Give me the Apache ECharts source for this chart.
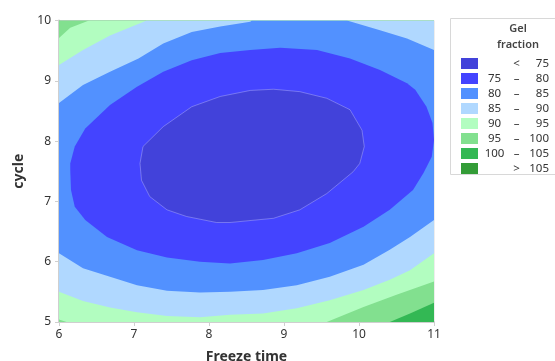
<!DOCTYPE html>
<html>
<head>
<meta charset="utf-8">
<script src="https://cdn.jsdelivr.net/npm/echarts@6/dist/echarts.min.js"></script>
<style>
  html, body { margin: 0; padding: 0; background: #fff; }
  #chart { width: 555px; height: 361px; }
</style>
</head>
<body>
<div id="chart"></div>
<script>
// contour bands: [freeze time, cycle] points
var bandNames = ['<75', '75-80', '80-85', '85-90', '90-95', '95-100', '100-105', '>105'];
var bandColors = ['#4242DA', '#4444FF', '#5291FF', '#B0D8FF', '#B2FDC0', '#82E08F', '#33B854', '#339C37'];
var legendCols = {
  '<75': ['', '<', '75'],
  '75-80': ['75', '–', '80'],
  '80-85': ['80', '–', '85'],
  '85-90': ['85', '–', '90'],
  '90-95': ['90', '–', '95'],
  '95-100': ['95', '–', '100'],
  '100-105': ['100', '–', '105'],
  '>105': ['', '>', '105']
};

// area where gel fraction < 105 (whole plot)
var below105 = [[6, 10], [11, 10], [11, 5], [6, 5]];
// area < 100 : plot minus bottom right corner
var below100 = [[6, 10], [11, 10], [11, 5.32], [10.68, 5.14], [10.41, 5], [6, 5]];
// area < 95
var below95 = [[6.40, 10], [11, 10], [11, 5.67], [10.50, 5.45], [10.06, 5.25], [9.57, 5],
  [6.10, 5], [6, 5.04], [6, 9.71], [6.15, 9.88]];
// area < 90
var below90 = [[7.17, 10], [11, 10], [11, 6.14], [10.68, 5.86], [10.41, 5.70], [10.06, 5.53],
  [9.61, 5.36], [9.17, 5.23], [8.72, 5.14], [8.28, 5.12], [7.88, 5.08], [7.44, 5.10],
  [7.04, 5.16], [6.68, 5.24], [6.32, 5.35], [6, 5.50], [6, 9.26], [6.32, 9.51], [6.68, 9.75]];
// area < 85
var below85 = [[6, 8.63], [6.32, 8.93], [6.68, 9.15], [7.06, 9.37], [7.39, 9.62], [7.77, 9.81],
  [8.15, 9.90], [8.55, 9.98], [8.57, 10], [9.84, 10], [10.28, 9.84], [10.64, 9.70], [11, 9.51],
  [11, 6.69], [10.68, 6.41], [10.41, 6.20], [10.06, 5.95], [9.61, 5.75], [9.17, 5.61],
  [8.72, 5.53], [8.28, 5.50], [7.88, 5.49], [7.44, 5.52], [7.04, 5.61], [6.68, 5.75],
  [6.32, 5.89], [6, 6.14]];
// area < 80
var below80 = [[6.15, 7.63], [6.21, 7.91], [6.35, 8.21], [6.68, 8.60], [7.04, 8.90], [7.39, 9.15],
  [7.77, 9.34], [8.15, 9.46], [8.55, 9.51], [8.95, 9.55], [9.44, 9.51], [9.88, 9.37],
  [10.28, 9.18], [10.64, 8.96], [10.75, 8.85], [10.90, 8.57], [10.98, 8.30], [11, 8.02],
  [10.97, 7.74], [10.86, 7.47], [10.72, 7.19], [10.41, 6.86], [10.06, 6.58], [9.61, 6.31],
  [9.17, 6.14], [8.72, 6.03], [8.28, 5.97], [7.88, 6.00], [7.44, 6.07], [7.04, 6.19],
  [6.64, 6.41], [6.35, 6.69], [6.21, 6.91], [6.16, 7.19], [6.15, 7.52]];
// area < 75
var below75 = [[7.08, 7.63], [7.12, 7.91], [7.39, 8.24], [7.77, 8.57], [8.15, 8.74], [8.55, 8.84],
  [8.86, 8.86], [9.21, 8.82], [9.57, 8.71], [9.88, 8.52], [10.04, 8.18], [10.07, 7.91],
  [10.01, 7.63], [9.92, 7.49], [9.57, 7.13], [9.21, 6.86], [8.86, 6.72], [8.28, 6.65],
  [8.10, 6.65], [7.70, 6.75], [7.44, 6.86], [7.21, 7.08], [7.10, 7.35]];

var xTicks = [6, 7, 8, 9, 10, 11];
var yTicks = [5, 6, 7, 8, 9, 10];

var FONT = 'Noto Sans';

function areaSeries(name, color, pts, line) {
  return {
    name: name,
    type: 'custom',
    silent: true,
    clip: true,
    itemStyle: { color: color },
    data: pts ? [[6, 5]] : [],
    renderItem: function (params, api) {
      var points = pts.map(function (p) { return api.coord(p); });
      return {
        type: 'polygon',
        shape: { points: points },
        style: {
          fill: color,
          stroke: line ? 'rgba(255,255,255,0.35)' : null,
          lineWidth: line ? 0.8 : 0
        }
      };
    }
  };
}

// painted from the outer level inwards
var layers = [below105, below100, below95, below90, below85, below80, below75];
var series = [];
for (var i = 0; i < layers.length; i++) {
  var b = 6 - i; // band index for this fill
  series.push(areaSeries(bandNames[b], bandColors[b], layers[i], b === 0));
}
series.push(areaSeries(bandNames[7], bandColors[7], null, false));

var chart = echarts.init(document.getElementById('chart'));
chart.setOption({
  animation: false,
  textStyle: { fontFamily: FONT },
  grid: {
    left: 59, right: 121, top: 20.5, bottom: 39,
    outerBoundsMode: 'none',
    show: true, borderColor: '#dcdcdc', borderWidth: 1, backgroundColor: 'transparent'
  },
  xAxis: {
    type: 'value', min: 6, max: 11, interval: 1,
    name: 'Freeze time', nameLocation: 'middle', nameGap: 28,
    nameTextStyle: { fontFamily: FONT, fontSize: 14, fontWeight: 'bold', color: '#333' },
    axisLine: { show: true, onZero: false, lineStyle: { color: '#cfcfcf', width: 2 } },
    axisTick: { show: true, length: 4, lineStyle: { color: '#cfcfcf' } },
    axisLabel: {
      margin: 7, fontSize: 12, color: '#333', fontFamily: FONT,
      formatter: function (v) { return xTicks.indexOf(v) >= 0 ? String(v) : ''; }
    },
    splitLine: { show: false }
  },
  yAxis: {
    type: 'value', min: 5, max: 10, interval: 1,
    name: 'cycle', nameLocation: 'middle', nameGap: 33,
    nameTextStyle: { fontFamily: FONT, fontSize: 14, fontWeight: 'bold', color: '#333' },
    axisLine: { show: true, onZero: false, lineStyle: { color: '#cfcfcf', width: 2 } },
    axisTick: { show: true, length: 4, lineStyle: { color: '#cfcfcf' } },
    axisLabel: {
      margin: 8, fontSize: 12, color: '#333', fontFamily: FONT,
      formatter: function (v) { return yTicks.indexOf(v) >= 0 ? String(v) : ''; }
    },
    splitLine: { show: false }
  },
  title: {
    text: 'Gel\nfraction',
    left: 513, top: 16, textAlign: 'center',
    textStyle: { fontFamily: FONT, fontSize: 11, fontWeight: 600, color: '#444', lineHeight: 16 }
  },
  graphic: [{
    type: 'rect', silent: true,
    shape: { x: 450.5, y: 18.5, width: 110, height: 156 },
    style: { fill: 'none', stroke: '#d8d8d8', lineWidth: 1 }
  }],
  legend: {
    orient: 'vertical',
    left: 456, top: 52,
    itemWidth: 17, itemHeight: 11, itemGap: 2,
    icon: 'rect',
    selectedMode: false,
    data: bandNames,
    formatter: function (name) {
      var c = legendCols[name];
      return '{a|' + c[0] + '}{b|' + c[1] + '}{c|' + c[2] + '}';
    },
    textStyle: {
      fontFamily: FONT, fontSize: 11.5, color: '#333', lineHeight: 13,
      rich: {
        a: { width: 23, align: 'right', fontFamily: FONT, fontSize: 11.5, color: '#333', lineHeight: 13 },
        b: { width: 21, align: 'center', fontFamily: FONT, fontSize: 11.5, color: '#333', lineHeight: 13 },
        c: { width: 22, align: 'right', fontFamily: FONT, fontSize: 11.5, color: '#333', lineHeight: 13 }
      }
    }
  },
  series: series
});
</script>
</body>
</html>
